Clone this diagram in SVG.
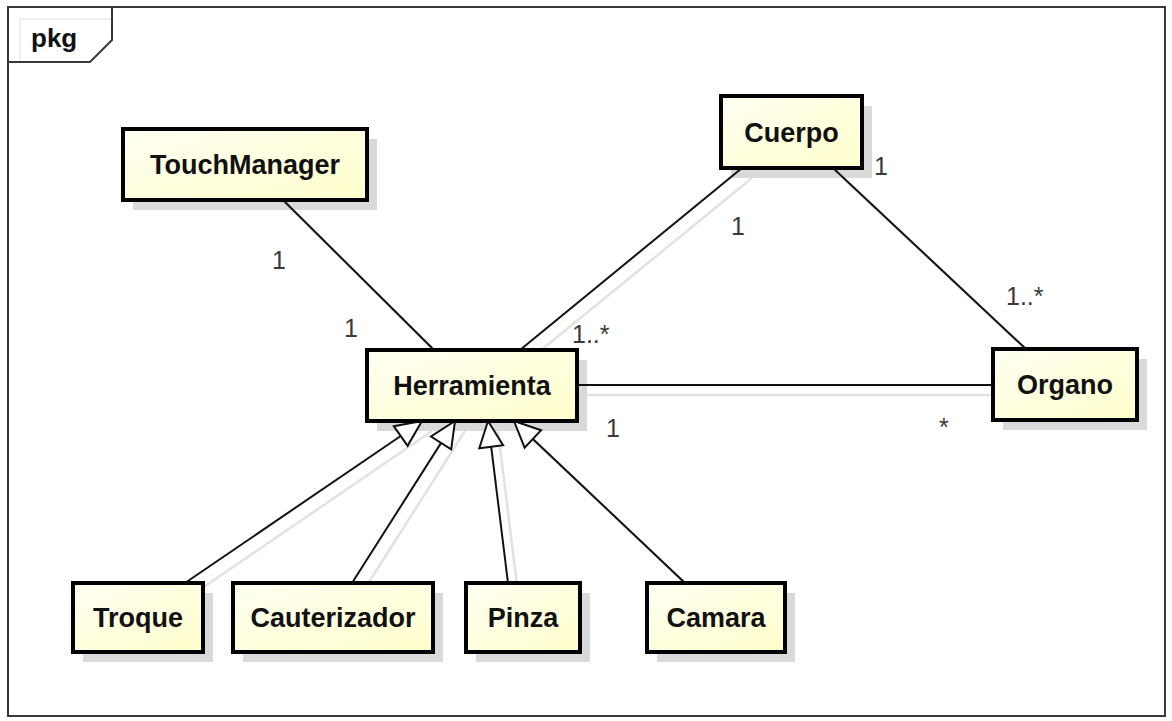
<svg xmlns="http://www.w3.org/2000/svg" width="1172" height="721" viewBox="0 0 1172 721">
  <defs>
    <linearGradient id="classFill" x1="0" y1="0" x2="1" y2="1">
      <stop offset="0" stop-color="#fffff2"/>
      <stop offset="1" stop-color="#ffffcc"/>
    </linearGradient>
  </defs>
  <style>
    .frame { fill: none; stroke: #3a3a3a; stroke-width: 2; }
    .frame-shadow { fill: none; stroke: #f0f0f0; stroke-width: 2; }
    .pkg { font-family: "Liberation Sans", Arial, sans-serif; font-weight: bold; font-size: 26px; fill: #111; }
    .box { fill: url(#classFill); stroke: #000; stroke-width: 4; }
    .box-shadow { fill: #d9d9d9; }
    .name { font-family: "Liberation Sans", Arial, sans-serif; font-weight: bold; font-size: 27px; fill: #111; text-anchor: middle; }
    .edge { fill: none; stroke: #111; stroke-width: 2; }
    .edge-shadow { fill: none; stroke: #e2e2e2; stroke-width: 2.5; }
    .head { fill: #fff; stroke: #111; stroke-width: 2; stroke-linejoin: miter; }
    .mult { font-family: "Liberation Sans", Arial, sans-serif; font-size: 25px; fill: #3a3a3a; }
  </style>

  <rect x="0" y="0" width="1172" height="721" fill="#fff"/>

  <!-- package frame -->
  <g id="frame">
    <path class="frame-shadow" d="M20 62 V19 H112"/>
    <rect class="frame" x="8" y="7" width="1157" height="709"/>
    <path class="frame" d="M8 62 H90 L112 40 V7"/>
    <text class="pkg" x="31" y="47">pkg</text>
  </g>

  <!-- connector shadows -->
  <g id="connector-shadows">
    <line class="edge-shadow" x1="293" y1="210" x2="444" y2="360"/>
    <line class="edge-shadow" x1="752" y1="178" x2="529" y2="360"/>
    <line class="edge-shadow" x1="843" y1="178" x2="1037" y2="360"/>
    <line class="edge-shadow" x1="587" y1="395" x2="1003" y2="395"/>
    <line class="edge-shadow" x1="195" y1="593" x2="432" y2="431"/>
    <line class="edge-shadow" x1="362" y1="593" x2="465" y2="431"/>
    <line class="edge-shadow" x1="518" y1="593" x2="498" y2="431"/>
    <line class="edge-shadow" x1="695" y1="593" x2="524" y2="431"/>
  </g>

  <!-- node shadows -->
  <g id="node-shadows">
    <rect class="box-shadow" x="133" y="139" width="244" height="71"/>
    <rect class="box-shadow" x="731" y="106" width="141" height="72"/>
    <rect class="box-shadow" x="377" y="360" width="210" height="71"/>
    <rect class="box-shadow" x="1003" y="359" width="144" height="71"/>
    <rect class="box-shadow" x="83" y="593" width="130" height="69"/>
    <rect class="box-shadow" x="243" y="593" width="200" height="69"/>
    <rect class="box-shadow" x="476" y="593" width="114" height="69"/>
    <rect class="box-shadow" x="657" y="593" width="138" height="69"/>
  </g>

  <!-- connectors -->
  <g id="connectors">
    <!-- associations -->
    <line class="edge" x1="283" y1="200" x2="434" y2="350"/>
    <line class="edge" x1="742" y1="168" x2="520" y2="350"/>
    <line class="edge" x1="833" y1="168" x2="1027" y2="350"/>
    <line class="edge" x1="577" y1="385" x2="993" y2="385"/>
    <!-- generalizations to Herramienta -->
    <line class="edge" x1="185" y1="583" x2="400.7" y2="436"/>
    <line class="edge" x1="352" y1="583" x2="441.1" y2="442.9"/>
    <line class="edge" x1="508" y1="583" x2="491.2" y2="446.8"/>
    <line class="edge" x1="685" y1="583" x2="532.9" y2="438.9"/>
    <polygon class="head" points="422,421 407.6,445.8 393.8,426.2"/>
    <polygon class="head" points="455,421 451.2,449.3 431,436.5"/>
    <polygon class="head" points="488,421 503.1,445.3 479.3,448.3"/>
    <polygon class="head" points="514,421 541.1,430.2 524.6,447.6"/>
  </g>

  <!-- nodes -->
  <g id="TouchManager">
    <rect class="box" x="123" y="129" width="244" height="71"/>
    <text class="name" x="245" y="174">TouchManager</text>
  </g>
  <g id="Cuerpo">
    <rect class="box" x="721" y="96" width="141" height="72"/>
    <text class="name" x="791.5" y="142">Cuerpo</text>
  </g>
  <g id="Herramienta">
    <rect class="box" x="367" y="350" width="210" height="71"/>
    <text class="name" x="472" y="395">Herramienta</text>
  </g>
  <g id="Organo">
    <rect class="box" x="993" y="349" width="144" height="71"/>
    <text class="name" x="1065" y="394">Organo</text>
  </g>
  <g id="Troque">
    <rect class="box" x="73" y="583" width="130" height="69"/>
    <text class="name" x="138" y="627">Troque</text>
  </g>
  <g id="Cauterizador">
    <rect class="box" x="233" y="583" width="200" height="69"/>
    <text class="name" x="333" y="627">Cauterizador</text>
  </g>
  <g id="Pinza">
    <rect class="box" x="466" y="583" width="114" height="69"/>
    <text class="name" x="523" y="627">Pinza</text>
  </g>
  <g id="Camara">
    <rect class="box" x="647" y="583" width="138" height="69"/>
    <text class="name" x="716" y="627">Camara</text>
  </g>

  <!-- multiplicities -->
  <g id="multiplicities">
    <text class="mult" x="272" y="269">1</text>
    <text class="mult" x="344" y="337">1</text>
    <text class="mult" x="874" y="175">1</text>
    <text class="mult" x="731" y="235">1</text>
    <text class="mult" x="572" y="343">1..*</text>
    <text class="mult" x="606" y="437">1</text>
    <text class="mult" x="1006" y="305">1..*</text>
    <text class="mult" x="939" y="436">*</text>
  </g>
</svg>
